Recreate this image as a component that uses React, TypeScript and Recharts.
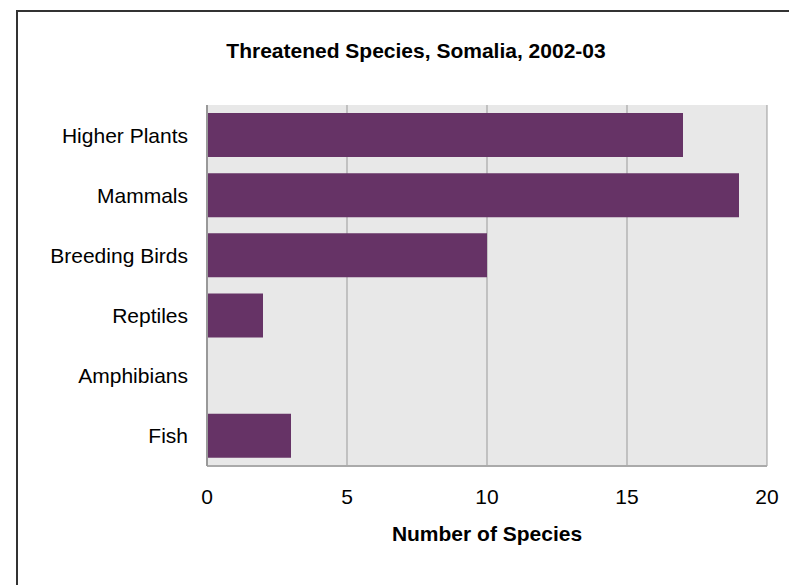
import React from 'react';
import { BarChart, Bar, XAxis, YAxis, CartesianGrid } from 'recharts';

const categories = ['Higher Plants', 'Mammals', 'Breeding Birds', 'Reptiles', 'Amphibians', 'Fish'];
const speciesCounts = [17, 19, 10, 2, 0, 3];
const xTicks = [0, 5, 10, 15, 20];

const data = categories.map((name, i) => ({ name, value: speciesCounts[i] }));

const FONT = '"Liberation Sans", Arial, Helvetica, sans-serif';

export default function App() {
  return (
    <div style={{ position: 'absolute', left: 0, top: 0, width: 789, height: 585, overflow: 'hidden', background: '#fff', fontFamily: FONT }}>
      <div
        style={{
          position: 'absolute',
          left: 16,
          top: 10,
          width: 800,
          height: 620,
          border: '2px solid #333',
          boxSizing: 'border-box',
        }}
      />
      <div
        style={{
          position: 'absolute',
          left: 16,
          top: 39.5,
          width: 800,
          textAlign: 'center',
          fontSize: 21,
          lineHeight: '21px',
          fontWeight: 'bold',
          color: '#000',
        }}
      >
        Threatened Species, Somalia, 2002-03
      </div>
      <div style={{ position: 'absolute', left: 0, top: 0 }}>
        <BarChart
          width={789}
          height={585}
          data={data}
          layout="vertical"
          margin={{ top: 105, right: 22, bottom: 39, left: 0 }}
        >
          <CartesianGrid horizontal={false} vertical={true} fill="#e8e8e8" stroke="#999" strokeDasharray="" />
          <XAxis
            type="number"
            domain={[0, 20]}
            ticks={xTicks}
            interval={0}
            height={80}
            tickLine={false}
            tickSize={0}
            tickMargin={23}
            axisLine={{ stroke: '#aaa', strokeWidth: 2 }}
            tick={{ fill: '#000', fontSize: 21, fontFamily: FONT }}
            label={{
              value: 'Number of Species',
              position: 'insideBottom',
              offset: 5,
              fill: '#000',
              fontSize: 21,
              fontWeight: 'bold',
              fontFamily: FONT,
            }}
          />
          <YAxis
            type="category"
            dataKey="name"
            width={207}
            tickLine={false}
            tickSize={0}
            tickMargin={19}
            interval={0}
            axisLine={{ stroke: '#999', strokeWidth: 2 }}
            tick={{ fill: '#000', fontSize: 21, fontFamily: FONT }}
          />
          <Bar dataKey="value" fill="#663366" barSize={44} isAnimationActive={false} />
        </BarChart>
      </div>
    </div>
  );
}
